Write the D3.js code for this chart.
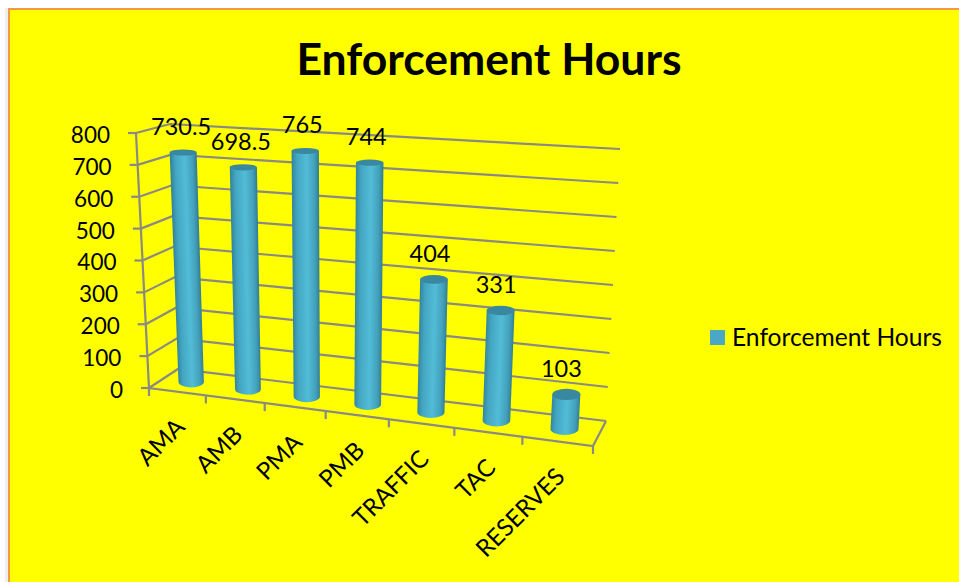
<!DOCTYPE html>
<html>
<head>
<meta charset="utf-8">
<script src="https://cdnjs.cloudflare.com/ajax/libs/d3/7.8.5/d3.min.js"></script>
<style>
    html, body { margin: 0; padding: 0; background: #fff; }
    svg { display: block; }
    text { font-family: Lato, "Open Sans", sans-serif; fill: #000; }
</style>
</head>
<body>
<svg id="chart" width="959" height="582"></svg>
<script>
const categories = ["AMA", "AMB", "PMA", "PMB", "TRAFFIC", "TAC", "RESERVES"];
const values = [730.5, 698.5, 765, 744, 404, 331, 103];
const valueLabels = ["730.5", "698.5", "765", "744", "404", "331", "103"];
const yTicks = [0, 100, 200, 300, 400, 500, 600, 700, 800];
const seriesName = "Enforcement Hours";
const title = "Enforcement Hours";

const svg = d3.select("#chart");
const defs = svg.append("defs");

// the box corners on screen, the 3d look is only these four edges
const frontLeft = [[149, 388], [136, 133]];
const backLeft = [[178, 369], [170, 124]];
const frontRight = [[593, 446], [612, 176]];
const backRight = [[606, 421], [620, 149]];

const h = d3.scaleLinear().domain([0, 800]).range([0, 1]);
const n = categories.length;

// category position to position along the floor, slightly foreshortened
const along = (i) => {
    const t = i / n;
    return t / (t + (1 - t) * 1.135);
};

function project(i, depth, value) {
    const s = along(i);
    const k = h(value);
    const edge = (e) => d3.interpolate(e[0], e[1])(k);
    const front = d3.interpolate(edge(frontLeft), edge(frontRight))(s);
    const back = d3.interpolate(edge(backLeft), edge(backRight))(s);
    return d3.interpolate(front, back)(depth);
}

// page
svg.append("rect").attr("x", 5).attr("y", 8).attr("width", 4).attr("height", 574).attr("fill", "#eeeeee");
svg.append("rect")
    .attr("x", 9).attr("y", 9)
    .attr("width", 960).attr("height", 590)
    .attr("fill", "#ffff00")
    .attr("stroke", "#f79646")
    .attr("stroke-width", 2);

svg.append("text")
    .attr("x", 489).attr("y", 75)
    .attr("text-anchor", "middle")
    .attr("font-size", 44.5)
    .attr("font-weight", 700)
    .text(title);

// walls and floor
const gridColor = "#8a8a80";
const line = d3.line();
const grid = svg.append("g")
    .attr("fill", "none")
    .attr("stroke", gridColor)
    .attr("stroke-width", 2.2);

// back wall and left wall lines come straight from the corners
grid.selectAll(".wall")
    .data(yTicks)
    .join("path")
    .attr("class", "wall")
    .attr("d", v => line([project(0, 0, v), project(0, 1, v), project(n, 1, v)]));

grid.append("path")
    .attr("d", line([project(0, 0, 800), project(0, 0, 0), project(n, 0, 0), project(n, 1, 0)]));

grid.selectAll(".ytick")
    .data(yTicks)
    .join("path")
    .attr("class", "ytick")
    .attr("d", v => {
        const p = project(0, 0, v);
        return line([p, [p[0] - 8, p[1]]]);
    });

grid.selectAll(".xtick")
    .data(d3.range(0, n + 1))
    .join("path")
    .attr("class", "xtick")
    .attr("d", i => {
        const p = project(i, 0, 0);
        return line([p, [p[0], p[1] + 8]]);
    });

svg.append("g")
    .selectAll("text")
    .data(yTicks)
    .join("text")
    .attr("x", v => project(0, 0, v)[0] - 26)
    .attr("y", v => project(0, 0, v)[1] + 2)
    .attr("dy", "0.35em")
    .attr("text-anchor", "end")
    .attr("font-size", 22.5)
    .text(v => v);

// cylinders
const rxBottom = d3.scaleLinear().domain([0, n - 1]).range([12.7, 14]);
const rxTop = d3.scaleLinear().domain([0, n - 1]).range([13.5, 14]);
const ryOf = d3.scaleLinear().domain([150, 430]).range([3, 6]);

const bars = categories.map((name, i) => {
    const base = project(i + 0.5, 0.5, 0);
    const top = project(i + 0.5, 0.5, values[i]);
    return {
        name, i, base, top,
        rb: rxBottom(i), rt: rxTop(i),
        ryb: ryOf(base[1]), ryt: ryOf(top[1])
    };
});

// gradient runs across the cylinder, so square to its tilted axis
const grads = defs.selectAll("linearGradient")
    .data(bars)
    .join("linearGradient")
    .attr("id", d => "cyl" + d.i)
    .attr("gradientUnits", "userSpaceOnUse")
    .attr("x1", d => d.base[0] - d.rb)
    .attr("y1", d => d.base[1])
    .attr("x2", d => d.base[0] + d.rb)
    .attr("y2", d => d.base[1] + (d.top[0] - d.base[0]) / (d.base[1] - d.top[1]) * 2 * d.rb);

grads.selectAll("stop")
    .data([[0, "#35859e"], [0.18, "#43a6c1"], [0.55, "#52bcd7"], [0.85, "#43a0ba"], [1, "#327f98"]])
    .join("stop")
    .attr("offset", s => s[0])
    .attr("stop-color", s => s[1]);

const barG = svg.append("g");

barG.selectAll(".side")
    .data(bars)
    .join("path")
    .attr("class", "side")
    .attr("fill", d => `url(#cyl${d.i})`)
    .attr("d", d => {
        const [bx, by] = d.base;
        const [tx, ty] = d.top;
        return `M${tx - d.rt},${ty} L${bx - d.rb},${by}` +
            ` A${d.rb},${d.ryb} 0 0 0 ${bx + d.rb},${by}` +
            ` L${tx + d.rt},${ty} Z`;
    });

barG.selectAll(".cap")
    .data(bars)
    .join("ellipse")
    .attr("class", "cap")
    .attr("cx", d => d.top[0])
    .attr("cy", d => d.top[1])
    .attr("rx", d => d.rt)
    .attr("ry", d => d.ryt)
    .attr("fill", "#3a87a0");

// value labels
const labelShift = d3.scaleLinear().domain([0, n - 1]).range([-2, -5]);
svg.append("g")
    .selectAll("text")
    .data(bars)
    .join("text")
    .attr("x", d => d.top[0] + labelShift(d.i))
    .attr("y", d => d.top[1] - 26)
    .attr("dy", "0.35em")
    .attr("text-anchor", "middle")
    .attr("font-size", 23.5)
    .text(d => valueLabels[d.i]);

// category labels
svg.append("g")
    .selectAll("text")
    .data(categories)
    .join("text")
    .attr("transform", (d, i) => {
        const p = project(i + 0.5, 0, 0);
        return `translate(${p[0] + 3},${p[1] + 31}) rotate(-45)`;
    })
    .attr("dy", "0.35em")
    .attr("text-anchor", "end")
    .attr("font-size", 24)
    .text(d => d);

// legend
const legend = svg.append("g");
legend.append("rect")
    .attr("x", 710).attr("y", 330)
    .attr("width", 15).attr("height", 15)
    .attr("fill", "#4aa8c6");
legend.append("text")
    .attr("x", 732).attr("y", 337)
    .attr("dy", "0.35em")
    .attr("font-size", 24.6)
    .text(seriesName);
</script>
</body>
</html>
